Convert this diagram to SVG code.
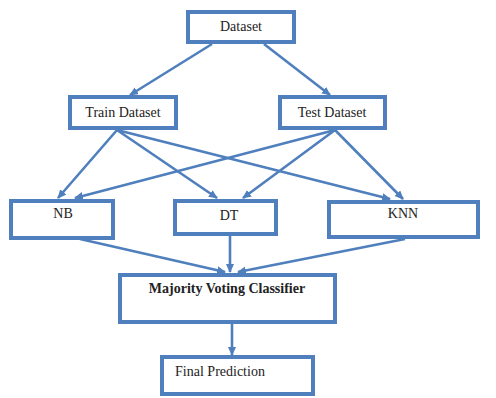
<svg xmlns="http://www.w3.org/2000/svg" width="496" height="398" viewBox="0 0 496 398">
<style>
.box{fill:#fff;stroke:#4f7fbd;stroke-width:4}
.lbl{font-family:"Liberation Serif","Times New Roman",serif;font-size:14px;fill:#222;text-anchor:middle}
.con line{stroke:#4f7fbd;stroke-width:2.6;marker-end:url(#ah)}
</style>
<defs>
<marker id="ah" markerUnits="userSpaceOnUse" markerWidth="10" markerHeight="10" refX="8" refY="4" orient="auto">
<path d="M0,0 L9,4 L0,8 Z" fill="#4f7fbd"/>
</marker>
</defs>
<rect width="496" height="398" fill="#fff"/>
<g id="connectors" class="con">
<line x1="212" y1="44" x2="130" y2="95"/>
<line x1="264" y1="44" x2="330" y2="95"/>
<line x1="117" y1="130" x2="58" y2="198"/>
<line x1="117" y1="130" x2="217" y2="198"/>
<line x1="117" y1="130" x2="390" y2="199"/>
<line x1="335" y1="130" x2="75" y2="198"/>
<line x1="335" y1="130" x2="243" y2="198"/>
<line x1="335" y1="130" x2="403" y2="199"/>
<line x1="80" y1="239" x2="225" y2="272"/>
<line x1="230" y1="236" x2="230" y2="272"/>
<line x1="405" y1="239" x2="238" y2="272"/>
<line x1="232" y1="324" x2="232" y2="355"/>
</g>
<g id="dataset"><rect class="box" x="188" y="12" width="106" height="30"/><text class="lbl" x="241" y="31">Dataset</text></g>
<g id="train"><rect class="box" x="70" y="97" width="106" height="31"/><text class="lbl" x="123" y="117">Train Dataset</text></g>
<g id="test"><rect class="box" x="280" y="97" width="105" height="31"/><text class="lbl" x="332" y="117">Test Dataset</text></g>
<g id="nb"><rect class="box" x="11" y="201" width="102" height="37"/><text class="lbl" x="63" y="218">NB</text></g>
<g id="dt"><rect class="box" x="175" y="201" width="101" height="33"/><text class="lbl" x="229" y="220">DT</text></g>
<g id="knn"><rect class="box" x="329" y="202" width="149" height="35"/><text class="lbl" x="403" y="218">KNN</text></g>
<g id="majority"><rect class="box" x="120" y="275" width="215" height="47"/><text class="lbl" x="227" y="293" font-weight="bold">Majority Voting Classifier</text></g>
<g id="final"><rect class="box" x="162" y="357" width="151" height="37"/><text class="lbl" x="220" y="376">Final Prediction</text></g>
</svg>
